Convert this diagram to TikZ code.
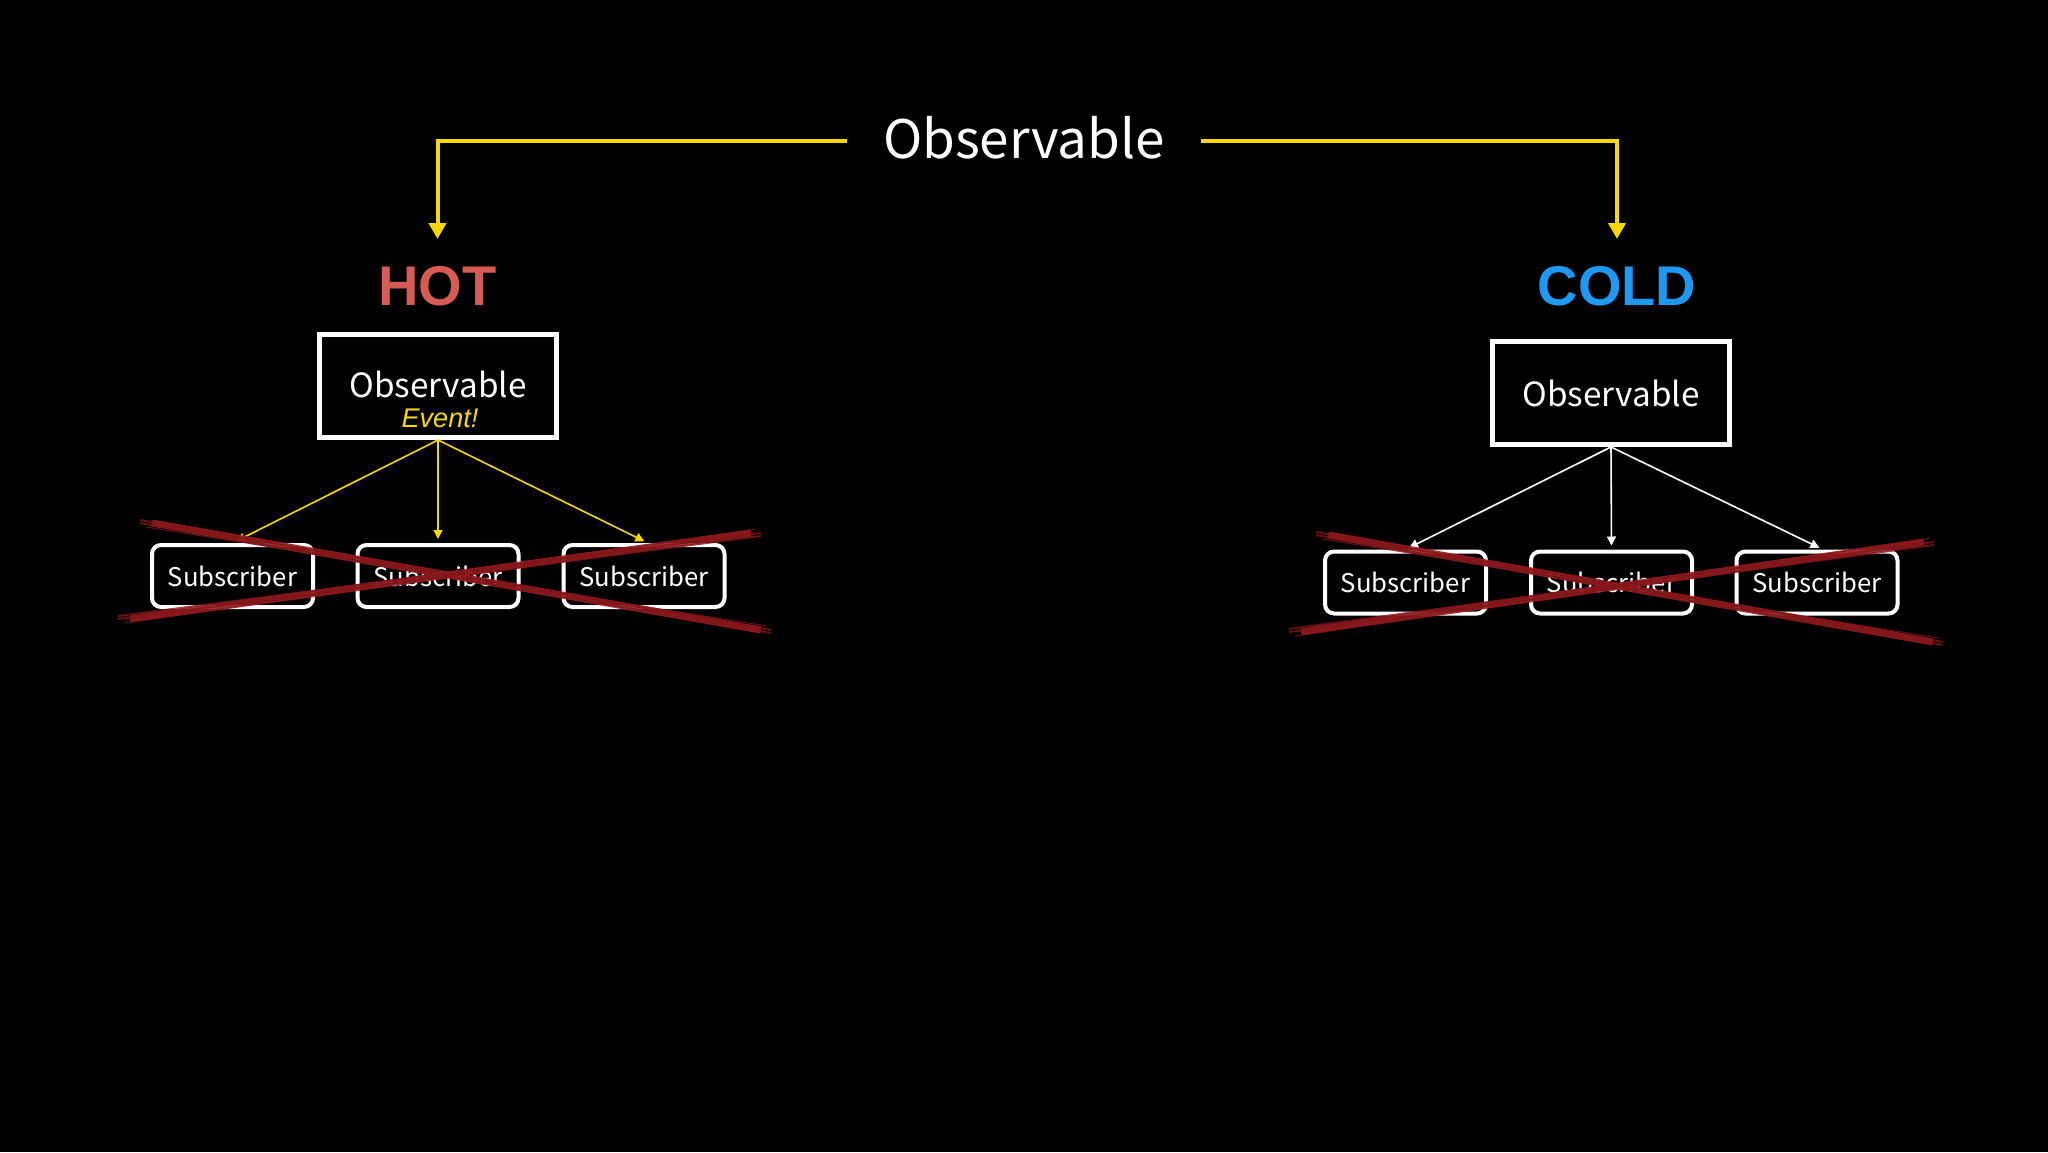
\documentclass[tikz,border=0pt]{standalone}
\usepackage{fontspec}
\newfontfamily\krfont{Noto Sans CJK KR}
\newfontfamily\arialb{Liberation Sans}[BoldFont=* Bold]
\usetikzlibrary{arrows.meta}
\definecolor{yel}{HTML}{F7D708}
\definecolor{hotred}{HTML}{D65B55}
\definecolor{coldblue}{HTML}{1E98F0}
\definecolor{crossred}{HTML}{9C1B20}
\begin{document}
\begin{tikzpicture}[x=1pt,y=-1pt,
  titletext/.style={text=white,font=\krfont\fontsize{53}{56}\selectfont,inner xsep=36pt,inner ysep=2pt},
  mainbox/.style={draw=white,line width=5pt,minimum width=237pt,minimum height=103pt,text=white,font=\krfont\fontsize{33.3}{36}\selectfont,inner sep=0pt},
  subbox/.style={draw=white,line width=4pt,rounded corners=9pt,minimum width=161pt,minimum height=62pt,text=white,font=\krfont\fontsize{25.7}{28}\selectfont,inner sep=0pt},
  bigarrow/.style={draw=yel,line width=4pt,-{Triangle[width=17pt,length=16pt]}},
  hotarrow/.style={draw=yel,line width=1.6pt,-{Triangle[width=9pt,length=9pt]},shorten >=4pt},
  coldarrow/.style={draw=white,line width=1.6pt,-{Triangle[width=9pt,length=9pt]},shorten >=4pt},
  crossline/.style={draw=crossred,line width=7pt,line cap=butt,opacity=0.9},
  crossthin/.style={draw=crossred!80!black,line width=2pt,opacity=0.8}
]
\fill[black] (0,0) rectangle (2048,1152);
\useasboundingbox (0,0) rectangle (2048,1152);

% title and branches
\node[titletext] (title) at (1024,138) {Observable};
\coordinate (hottip) at (437.5,239);
\coordinate (coldtip) at (1617,239);
\draw[bigarrow] ([yshift=-3pt]title.west) -| (hottip);
\draw[bigarrow] ([yshift=-3pt]title.east) -| (coldtip);

\node[text=hotred,font=\arialb\bfseries\fontsize{56}{58}\selectfont] (hot) at (437.5,286) {HOT};
\node[text=coldblue,font=\arialb\bfseries\fontsize{56}{58}\selectfont] (cold) at (1617,286) {COLD};

% HOT side
\node[mainbox] (hotobs) at (438,386) {\raisebox{4pt}{Observable}};
\node[text=yel,font=\arialb\itshape\fontsize{27}{30}\selectfont] (hotevent) at (440,418) {Event!};
\node[subbox] (hs1) at (232.5,576) {Subscriber};
\node[subbox] (hs2) at (438,576) {Subscriber};
\node[subbox] (hs3) at (644,576) {Subscriber};
\draw[hotarrow] (hotobs.south) -- (hs1.north);
\draw[hotarrow] (hotobs.south) -- (hs2.north);
\draw[hotarrow] (hotobs.south) -- ([xshift=4pt]hs3.north);

% COLD side
\node[mainbox] (coldobs) at (1611,393) {Observable};
\node[subbox] (cs1) at (1405.5,582.5) {Subscriber};
\node[subbox] (cs2) at (1611.5,582.5) {Subscriber};
\node[subbox] (cs3) at (1817,582.5) {Subscriber};
\draw[coldarrow] (coldobs.south) -- (cs1.north);
\draw[coldarrow] (coldobs.south) -- (cs2.north);
\draw[coldarrow] (coldobs.south) -- ([xshift=6pt]cs3.north);

% red crosses
\coordinate (ha1) at (140,523);
\coordinate (ha2) at (771,630);
\coordinate (hb1) at (118,619);
\coordinate (hb2) at (761,533);
\coordinate (ca1) at (1316,535);
\coordinate (ca2) at (1943,642);
\coordinate (cb1) at (1289,632);
\coordinate (cb2) at (1934,542);
\foreach \a/\b in {ha1/ha2,hb1/hb2,ca1/ca2,cb1/cb2}{
  \draw[crossline] ([xshift=12pt]\a) -- ([xshift=-10pt]\b);
  \draw[crossthin] (\a) -- ([yshift=-3pt]\b);
  \draw[crossthin] ([yshift=3pt]\a) -- (\b);
  \draw[crossthin,line width=1pt] ([yshift=-4pt,xshift=6pt]\a) -- ([yshift=4pt,xshift=-4pt]\b);
}
\end{tikzpicture}
\end{document}
